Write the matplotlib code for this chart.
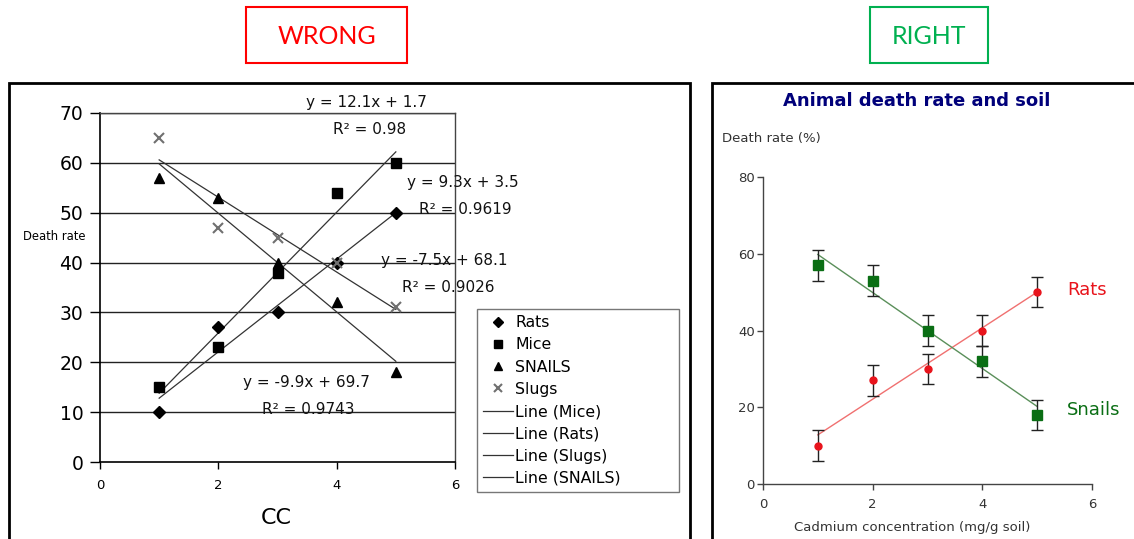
import numpy as np
import matplotlib
matplotlib.use('Agg')
import matplotlib.pyplot as plt
from matplotlib.patches import Rectangle

# Data
conc = [1, 2, 3, 4, 5]
rats = [10, 27, 30, 40, 50]
mice = [15, 23, 38, 54, 60]
snails = [57, 53, 40, 32, 18]
slugs = [65, 47, 45, 40, 31]
err = [4, 4, 4, 4, 4]

# equation labels shown on the "wrong" chart (as printed)
eq_labels = ['y = 12.1x + 1.7', 'R² = 0.98',
             'y = 9.3x + 3.5', 'R² = 0.9619',
             'y = -7.5x + 68.1', 'R² = 0.9026',
             'y = -9.9x + 69.7', 'R² = 0.9743']
eq_pos = [(366, 102), (370, 129), (463, 183), (465, 210),
          (444, 260), (448, 287), (306, 382), (308, 409)]

W, H = 1134, 539
fig = plt.figure(figsize=(W / 100, H / 100), dpi=100)
plt.rcParams['font.family'] = 'DejaVu Sans'


def fx(x):
    return x / W


def fy(y):
    return 1 - y / H


def box(x0, y0, x1, y1, **kw):
    fig.add_artist(Rectangle((fx(x0), fy(y1)), fx(x1) - fx(x0), fy(y0) - fy(y1),
                             transform=fig.transFigure, fill=False, **kw))


def fit(x, y):
    m, b = np.polyfit(x, y, 1)
    xs = np.array([min(x), max(x)])
    return xs, m * xs + b


# header boxes
box(246, 7, 407, 63, edgecolor='#ff0000', linewidth=1.5)
fig.text(fx(326.5), fy(36), 'WRONG', color='#ff0000', fontsize=18, family='Lato',
         ha='center', va='center')
box(870, 7, 988, 63, edgecolor='#00b050', linewidth=1.5)
fig.text(fx(929), fy(36), 'RIGHT', color='#00b050', fontsize=18, family='Lato',
         ha='center', va='center')

# panel frames
box(9, 83, 690, 560, edgecolor='black', linewidth=2)
box(712, 83, 1150, 560, edgecolor='black', linewidth=2)

# ---------------- WRONG chart ----------------
ax1 = fig.add_axes([fx(100), fy(462), fx(455) - fx(100), fy(113) - fy(462)])
ax1.set_xlim(0, 6)
ax1.set_ylim(0, 70)
ax1.set_xticks([0, 2, 4, 6])
ax1.set_yticks(range(0, 80, 10))
for v in range(10, 80, 10):
    ax1.axhline(v, color='#222222', linewidth=1, zorder=1)
for s in ['top', 'right']:
    ax1.spines[s].set_color('#444444')
    ax1.spines[s].set_linewidth(1)
for s in ['left', 'bottom']:
    ax1.spines[s].set_color('black')
    ax1.spines[s].set_linewidth(1.2)
ax1.tick_params(axis='y', direction='out', length=7, width=1, labelsize=13.5, pad=5)
ax1.tick_params(axis='x', direction='out', length=5, width=1, labelsize=9.5, pad=7)

h_rats, = ax1.plot(conc, rats, 'D', color='black', markersize=6, linestyle='none', label='Rats', zorder=3)
h_mice, = ax1.plot(conc, mice, 's', color='black', markersize=6.5, linestyle='none', label='Mice', zorder=3)
h_sn, = ax1.plot(conc, snails, '^', color='black', markersize=7.5, linestyle='none', label='SNAILS', zorder=3)
h_sl, = ax1.plot(conc, slugs, 'x', color='#707070', markersize=7.5, mew=1.5, linestyle='none', label='Slugs', zorder=3)

line_handles = []
for name, ys in [('Mice', mice), ('Rats', rats), ('Slugs', slugs), ('SNAILS', snails)]:
    xs, yl = fit(conc, ys)
    ln, = ax1.plot(xs, yl, color='#333333', linewidth=0.9, label=f'Line ({name})', zorder=2)
    line_handles.append(ln)

for lab, (px, py) in zip(eq_labels, eq_pos):
    fig.text(fx(px), fy(py), lab, fontsize=11, ha='center', va='center', color='#111111')

fig.text(fx(54), fy(237), 'Death rate', fontsize=8.4, ha='center', va='center')
fig.text(fx(276), fy(518), 'CC', fontsize=16, ha='center', va='center')

leg = fig.legend([h_rats, h_mice, h_sn, h_sl] + line_handles,
                 ['Rats', 'Mice', 'SNAILS', 'Slugs', 'Line (Mice)', 'Line (Rats)',
                  'Line (Slugs)', 'Line (SNAILS)'],
                 loc='upper left', bbox_to_anchor=(fx(477), fy(496), fx(679) - fx(477), fy(309) - fy(496)),
                 mode='expand', borderaxespad=0, fontsize=11.3, frameon=True, fancybox=False,
                 edgecolor='#555555', labelspacing=0.46, handlelength=1.9, handletextpad=0.15,
                 borderpad=0.4, markerscale=0.85)
leg.get_frame().set_linewidth(1)

# ---------------- RIGHT chart ----------------
ax2 = fig.add_axes([fx(763), fy(484), fx(1092) - fx(763), fy(177) - fy(484)])
ax2.set_xlim(0, 6)
ax2.set_ylim(0, 80)
ax2.set_xticks([0, 2, 4, 6])
ax2.set_yticks([0, 20, 40, 60, 80])
for s in ['top', 'right']:
    ax2.spines[s].set_visible(False)
for s in ['left', 'bottom']:
    ax2.spines[s].set_color('#444444')
    ax2.spines[s].set_linewidth(1)
ax2.tick_params(direction='out', length=4, width=1, colors='#444444', labelsize=9.5,
                labelcolor='#333333')
ax2.tick_params(axis='y', pad=2)
ax2.tick_params(axis='x', pad=6)

xs, yl = fit(conc, rats)
ax2.plot(xs, yl, color='#f07070', linewidth=1, zorder=2)
xs, yl = fit(conc, snails)
ax2.plot(xs, yl, color='#5a8f5a', linewidth=1, zorder=2)

ax2.errorbar(conc, rats, yerr=err, fmt='none', ecolor='#222222', elinewidth=1, capsize=4, capthick=1, zorder=3)
ax2.errorbar(conc, snails, yerr=err, fmt='none', ecolor='#222222', elinewidth=1, capsize=4, capthick=1, zorder=3)
ax2.plot(conc, rats, 'o', color='#e8141c', markersize=5, zorder=4)
ax2.plot(conc, snails, 's', color='#0a6e14', markersize=7, zorder=4)

fig.text(fx(1067), fy(290), 'Rats', color='#e8141c', fontsize=13, ha='left', va='center')
fig.text(fx(1067), fy(410), 'Snails', color='#0a6e14', fontsize=13, ha='left', va='center')

fig.text(fx(917), fy(101), 'Animal death rate and soil', color='#00007a', fontsize=13,
         fontweight='bold', ha='center', va='center')
fig.text(fx(722), fy(139), 'Death rate (%)', color='#333333', fontsize=9.5, ha='left', va='center')
fig.text(fx(912), fy(528), 'Cadmium concentration (mg/g soil)', color='#333333', fontsize=9.5,
         ha='center', va='center')

fig.savefig('out.png', dpi=100)
